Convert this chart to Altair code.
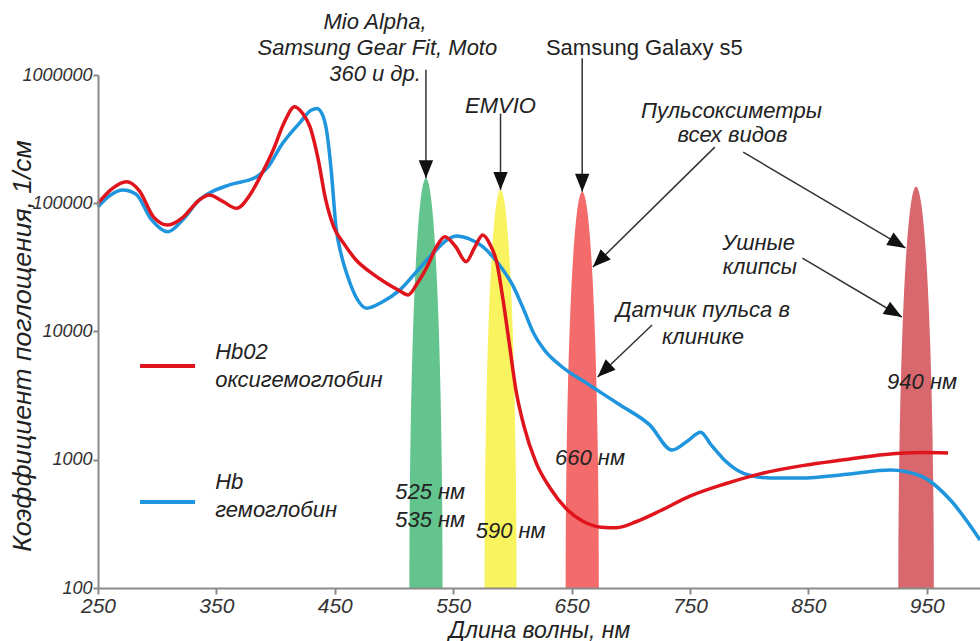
import math
import numpy as np
import pandas as pd
import altair as alt

# ---- absorption spectra: wavelength (nm) and absorption coefficient (1/cm) ----
hbo2_nm = [250, 262, 274, 285, 297, 309, 322, 335, 344, 355, 367, 378, 387, 398, 407,
           416, 423, 429, 436, 442, 449, 458, 468, 480, 494, 504, 512, 520, 528, 536,
           543, 552, 561, 568, 575, 581, 587, 592, 597, 603, 610, 620, 632, 645, 660,
           675, 688, 705, 725, 750, 780, 810, 845, 880, 915, 945, 968]
hbo2_val = [100000, 130000, 147000, 125000, 78000, 67600, 78000, 105000, 116000, 104000,
            91400, 115000, 161000, 260000, 420000, 566000, 500000, 396000, 220000, 110000,
            65800, 48000, 36100, 29000, 23700, 21000, 19300, 24000, 32000, 46000, 54800,
            46000, 35000, 45000, 56500, 48000, 34000, 18000, 8590, 3500, 1800, 950, 600,
            420, 330, 298, 295, 330, 400, 520, 650, 780, 900, 1000, 1100, 1140, 1130]

hb_nm = [250, 260, 271, 282, 295, 309, 322, 335, 344, 361, 384, 395, 404, 420, 430, 435,
         440, 443, 447, 451, 456, 461, 468, 477, 490, 505, 520, 533, 545, 553, 563, 575,
         588, 601, 610, 618, 628, 640, 665, 691, 716, 735, 748, 759, 768, 778, 790, 802,
         818, 843, 885, 919, 945, 970, 995]
hb_val = [94000, 115000, 127000, 118000, 75000, 60000, 75000, 105000, 120000, 139000,
          161000, 200000, 276000, 420000, 530000, 549000, 480000, 373000, 180000, 65600,
          38000, 26700, 18500, 15200, 17000, 21100, 30000, 40700, 52000, 55600, 53000,
          45900, 34000, 22300, 14500, 9680, 7000, 5480, 3830, 2670, 1870, 1190, 1400, 1640,
          1300, 1020, 830, 750, 721, 721, 774, 832, 747, 485, 237]

HBO2_COLOR = "#e0141c"
HB_COLOR = "#1f95dd"

# ---- LED emission bands ----
band_center = [527, 590, 659, 941]
band_halfwidth = [14, 13.5, 14, 15]
band_peak = [157000, 127000, 123000, 135000]
band_colors = ["#63c48d", "#f8f35e", "#f46b6b", "#d8686d"]

# ---- annotation arrows: start (nm, value) -> tip (nm, value) ----
arrow_start_nm = [527, 590, 659, 771, 795, 845, 718]
arrow_start_val = [1.1e6, 5.0e5, 1.35e6, 274000, 250000, 37400, 11250]
arrow_tip_nm = [527, 590, 659, 668, 932, 929, 672]
arrow_tip_val = [157000, 127000, 123000, 31800, 44800, 12970, 4420]

# ---- text labels ----
center_labels = ["Mio Alpha,", "Samsung Gear Fit, Moto", "360  и др.", "EMVIO",
                 "Пульсоксиметры", "всех видов", "Ушные", "клипсы",
                 "Датчик пульса в", "клинике"]
center_nm = [484, 486, 484, 590, 785, 786, 808, 809, 761, 761]
center_val = [2.59e6, 1.62e6, 1.02e6, 572000, 523000, 340000, 49000, 31900, 14700, 9060]

left_labels = ["Hb02", "оксигемоглобин", "Hb", "гемоглобин",
               "525 нм", "535 нм", "590 нм", "660 нм", "940 нм"]
left_nm = [349, 349, 349, 349, 501, 501, 569, 636, 916.5]
left_val = [6920, 4190, 670, 405, 561, 339, 278, 1033, 4040]

upright_labels = ["Samsung Galaxy s5"]
upright_nm = [711.5]
upright_val = [1.62e6]

# legend swatches (HbO2, Hb)
legend_nm = [285.5, 285.5]
legend_nm2 = [332, 332]
legend_val = [5380, 468]

X_MIN, X_MAX = 250, 995
Y_MIN, Y_MAX = 100, 1e6
W, H = 882, 513
FONT = "Liberation Sans"
INK = "#222222"

x_scale = alt.Scale(domain=[X_MIN, X_MAX], nice=False, zero=False)
y_scale = alt.Scale(type="log", domain=[Y_MIN, Y_MAX], nice=False)

x_axis = alt.Axis(
    values=[250, 350, 450, 550, 650, 750, 850, 950], format="d",
    title="Длина волны, нм", titleFont=FONT, titleFontSize=23, titleFontStyle="italic",
    titleFontWeight="normal", titleColor=INK, titleX=W / 2, titleY=42,
    titleBaseline="middle", titleAnchor="middle",
    labelFont=FONT, labelFontSize=21, labelFontStyle="italic", labelColor="#333333",
    labelPadding=1, labelFlush=False, tickSize=6, tickColor="#8a8a8a", tickWidth=2,
    domainColor="#8a8a8a", domainWidth=2, grid=False, zindex=1,
)
y_axis = alt.Axis(
    values=[100, 1000, 10000, 100000, 1000000], format="d",
    title="Коэффициент поглощения, 1/см", titleFont=FONT, titleFontSize=26.5,
    titleFontStyle="italic", titleFontWeight="normal", titleColor=INK,
    titleAngle=270, titleX=-76, titleY=H / 2 + 14, titleBaseline="middle",
    titleAlign="center",
    labelFont=FONT, labelFontSize=18, labelFontStyle="italic", labelColor="#333333",
    labelPadding=1, labelFlush=False, tickSize=5, tickColor="#8a8a8a", tickWidth=2,
    domainColor="#8a8a8a", domainWidth=2, grid=False, zindex=1,
)


def X(field="nm"):
    return alt.X(f"{field}:Q", scale=x_scale, axis=x_axis)


def Y(field="value"):
    return alt.Y(f"{field}:Q", scale=y_scale, axis=y_axis)


# band outlines: half-ellipses standing on the x axis, one layer per band
band_layers = []
for c, hw, peak, col in zip(band_center, band_halfwidth, band_peak, band_colors):
    top = math.log10(peak)
    rows = []
    for t in np.linspace(math.pi, 0.0, 73):
        rows.append({"nm": c + hw * math.cos(t),
                     "value": 10 ** (2 + math.sin(t) * (top - 2)),
                     "base": Y_MIN})
    band_layers.append(
        alt.Chart(pd.DataFrame(rows)).mark_area(color=col, opacity=1).encode(
            x=X(), y=Y(), y2="base:Q",
        )
    )

hb_line = alt.Chart(pd.DataFrame({"nm": hb_nm, "value": hb_val})).mark_line(
    interpolate="monotone", strokeWidth=3.5, color=HB_COLOR,
).encode(x=X(), y=Y())
hbo2_line = alt.Chart(pd.DataFrame({"nm": hbo2_nm, "value": hbo2_val})).mark_line(
    interpolate="monotone", strokeWidth=3.5, color=HBO2_COLOR,
).encode(x=X(), y=Y())

legend_layers = [
    alt.Chart(pd.DataFrame({"nm": [legend_nm[i]], "nm2": [legend_nm2[i]],
                            "value": [legend_val[i]]})).mark_rule(
        strokeWidth=4, color=col).encode(x=X(), x2="nm2:Q", y=Y())
    for i, col in enumerate([HBO2_COLOR, HB_COLOR])
]


# arrows
def px(nm):
    return (nm - X_MIN) / (X_MAX - X_MIN) * W


def py(v):
    return (math.log10(Y_MAX) - math.log10(v)) / (math.log10(Y_MAX) - math.log10(Y_MIN)) * H


angles = []
for sn, sv, tn, tv in zip(arrow_start_nm, arrow_start_val, arrow_tip_nm, arrow_tip_val):
    dx, dy = px(tn) - px(sn), py(tv) - py(sv)
    angles.append(math.degrees(math.atan2(-dx, dy)) % 360)

arrows_df = pd.DataFrame({"nm": arrow_start_nm, "value": arrow_start_val,
                          "nm2": arrow_tip_nm, "value2": arrow_tip_val})
heads_df = pd.DataFrame({"nm": arrow_tip_nm, "value": arrow_tip_val, "angle": angles})

arrow_lines = alt.Chart(arrows_df).mark_rule(color="#333333", strokeWidth=1.5).encode(
    x=X(), x2="nm2:Q", y=Y(), y2="value2:Q",
)
arrow_heads = alt.Chart(heads_df).mark_point(
    shape="M0,0 L-0.4,-1 L0.4,-1 Z", filled=True, size=1296, color="#111111",
    opacity=1, strokeWidth=0,
).encode(x=X(), y=Y(), angle=alt.Angle("angle:Q", scale=None))


def text_layer(labels, nms, vals, align, style):
    df = pd.DataFrame({"nm": nms, "value": vals, "label": labels})
    return alt.Chart(df).mark_text(
        align=align, baseline="middle", font=FONT, fontSize=22, fontStyle=style,
        color=INK,
    ).encode(x=X(), y=Y(), text="label:N")


texts = [
    text_layer(center_labels, center_nm, center_val, "center", "italic"),
    text_layer(left_labels, left_nm, left_val, "left", "italic"),
    text_layer(upright_labels, upright_nm, upright_val, "center", "normal"),
]

chart = alt.layer(
    *band_layers, hb_line, hbo2_line, *legend_layers, arrow_lines, arrow_heads, *texts
).properties(
    width=W, height=H,
    autosize=alt.AutoSizeParams(type="none"),
    padding={"left": 98, "top": 75, "right": 0, "bottom": 53},
    background="white",
).configure_view(stroke=None)

chart.save("out.html", embed_options={"renderer": "svg", "actions": False})
